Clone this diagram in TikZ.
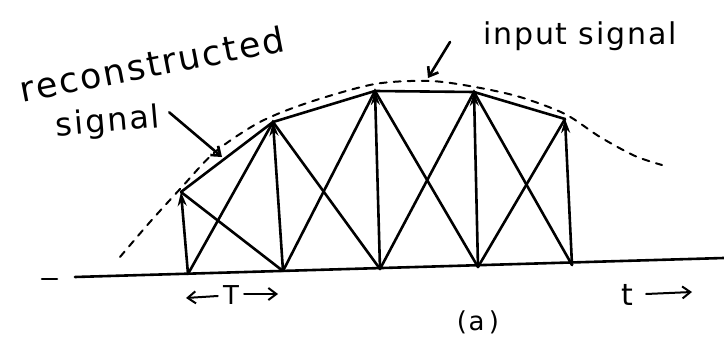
\documentclass[tikz,border=0pt]{standalone}
\usepackage{fontspec}
\newfontfamily\mano{DejaVu Sans}[LetterSpace=6]
\usepackage{tikz}
\usetikzlibrary{calc, arrows.meta}

\begin{document}
\begin{tikzpicture}[x=1pt,y=-1pt,line width=2.6pt,line cap=round,
    campione/.style={-{Stealth[length=14pt,width=9pt]}},
    freccia/.style={-{Straight Barb[length=8pt,width=12pt]}},
    scritta/.style={font=\mano\fontsize{30}{32}\selectfont,inner sep=0pt}]
    \useasboundingbox (0,0) rectangle (724,339);

    % asse dei tempi
    \draw (42,279) -- (57,279);
    \draw (75,277) -- (724,258);

    % basi e punte dei campioni
    \coordinate (b1) at (188,274);
    \coordinate (b2) at (283,271);
    \coordinate (b3) at (380,269);
    \coordinate (b4) at (478,267);
    \coordinate (b5) at (572,265);
    \coordinate (s1) at (181,192);
    \coordinate (s2) at (273,122);
    \coordinate (s3) at (375,91);
    \coordinate (s4) at (474,92);
    \coordinate (s5) at (565,119);

    % campioni
    \foreach \i in {1,...,5}
        \draw[campione] (b\i) -- (s\i);

    % segnale ricostruito
    \draw (s1) -- (s2) -- (s3) -- (s4) -- (s5);
    \draw (s1) -- (b2);
    \draw (b1) -- (s2) -- (b3);
    \draw (b2) -- (s3) -- (b4);
    \draw (b3) -- (s4) -- (b5);
    \draw (b4) -- (s5);

    % segnale di ingresso
    \draw[line width=2pt,dash pattern=on 7pt off 7pt] plot[smooth] coordinates
        {(120,257) (150,222) (181,188) (215,152) (260,122) (310,102) (375,84)
         (430,81) (475,87) (520,97) (565,114) (600,137) (635,156) (662,165)};

    % etichette
    \node[scritta,font=\mano\fontsize{35}{37}\selectfont,rotate=11] (ricostruito) at (152,64) {reconstructed};
    \node[scritta,font=\mano\fontsize{32}{34}\selectfont,rotate=5] (sig) at (108,123) {signal};
    \coordinate (puntaR) at (222,157);
    \draw[freccia] (sig.east) ++(8,-6) -- (puntaR);

    \node[scritta] (ingresso) at (580,36) {input signal};
    \coordinate (puntaI) at (428,78);
    \draw[freccia] (450,42) -- (puntaI);

    % periodo T
    \node[scritta,font=\mano\fontsize{26}{28}\selectfont] (T) at (231,295) {T};
    \coordinate (sxT) at (186,298);
    \coordinate (dxT) at (278,294);
    \draw[freccia,line width=2pt] (T.west) ++(-4,1) -- (sxT);
    \draw[freccia,line width=2pt] (T.east) ++(4,-1) -- (dxT);

    % asse t
    \node[scritta,font=\mano\fontsize{30}{32}\selectfont] (tempo) at (627,295) {t};
    \coordinate (dxt) at (692,292);
    \draw[freccia,line width=2pt] (tempo.east) ++(12,-1) -- (dxt);

    \node[scritta,font=\mano\fontsize{26}{28}\selectfont] (a) at (478,322) {(a\,)};
\end{tikzpicture}
\end{document}
